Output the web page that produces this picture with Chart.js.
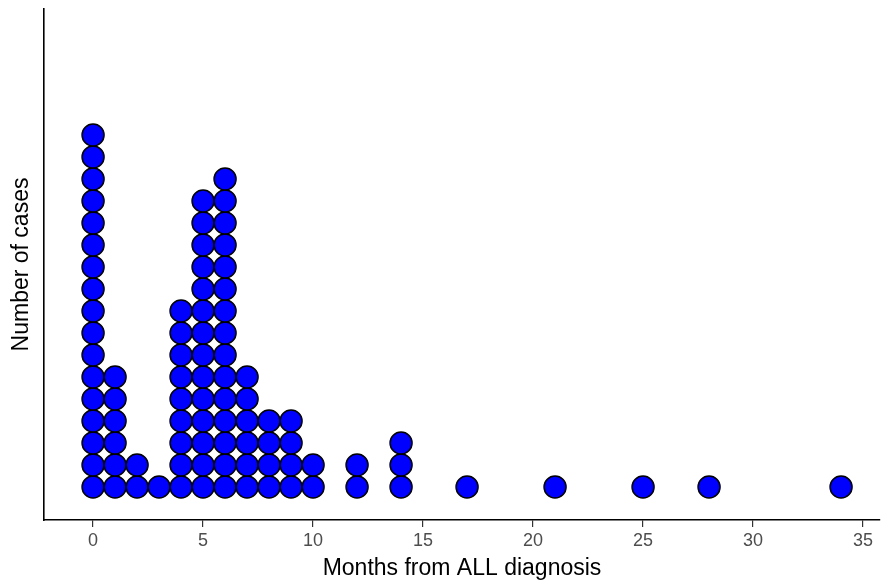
<!DOCTYPE html>
<html>
<head>
<meta charset="utf-8">
<script src="https://cdn.jsdelivr.net/npm/chart.js@4.4.0/dist/chart.umd.min.js"></script>
<style>
  html, body { margin: 0; padding: 0; background: #fff; }
  #wrap { width: 881px; height: 583px; }
</style>
</head>
<body>
<div id="wrap"><canvas id="dotChart"></canvas></div>
<script>
// months from ALL diagnosis and how many cases fall in each
const months = [0, 1, 2, 3, 4, 5, 6, 7, 8, 9, 10, 12, 14, 17, 21, 25, 28, 34];
const cases  = [17, 6, 2, 1, 9, 14, 15, 6, 4, 4, 2, 2, 3, 1, 1, 1, 1, 1];
const xTicks = [0, 5, 10, 15, 20, 25, 30, 35];

// one point per case, stacked upward
const dots = [];
months.forEach((m, i) => {
  for (let k = 1; k <= cases[i]; k++) dots.push({ x: m, y: k });
});

new Chart(document.getElementById('dotChart'), {
  type: 'scatter',
  data: {
    datasets: [{
      data: dots,
      pointRadius: 11,
      pointHoverRadius: 11,
      pointBackgroundColor: '#0000ff',
      pointBorderColor: '#000000',
      pointBorderWidth: 1.5
    }]
  },
  options: {
    responsive: true,
    maintainAspectRatio: false,
    animation: false,
    clip: false,
    layout: { autoPadding: false, padding: { top: 9, right: 1, left: 0, bottom: 0 } },
    plugins: {
      legend: { display: false },
      tooltip: { enabled: false }
    },
    scales: {
      x: {
        type: 'linear',
        min: -2.23,
        max: 35.77,
        afterBuildTicks: s => { s.ticks = xTicks.map(v => ({ value: v })); },
        afterFit: s => { s.height = 63; s.paddingLeft = 0; s.paddingRight = 0; },
        grid: { display: true, drawOnChartArea: false, tickLength: 7, color: '#333', lineWidth: 1.2 },
        border: { display: true, color: '#000', width: 1.6 },
        ticks: { color: '#4d4d4d', padding: 3, font: { family: 'Liberation Sans', size: 18 } },
        title: {
          display: true,
          text: 'Months from ALL diagnosis',
          color: '#000',
          padding: { top: 0, bottom: 1 },
          font: { family: 'Liberation Sans', size: 23 }
        }
      },
      y: {
        type: 'linear',
        min: -0.5,
        max: 22.73,
        afterFit: s => { s.width = 44; },
        grid: { display: false },
        border: { display: true, color: '#000', width: 1.6 },
        ticks: { display: false },
        title: {
          display: true,
          text: 'Number of cases',
          color: '#000',
          padding: { top: 8, bottom: 0 },
          font: { family: 'Liberation Sans', size: 23 }
        }
      }
    }
  }
});
</script>
</body>
</html>
